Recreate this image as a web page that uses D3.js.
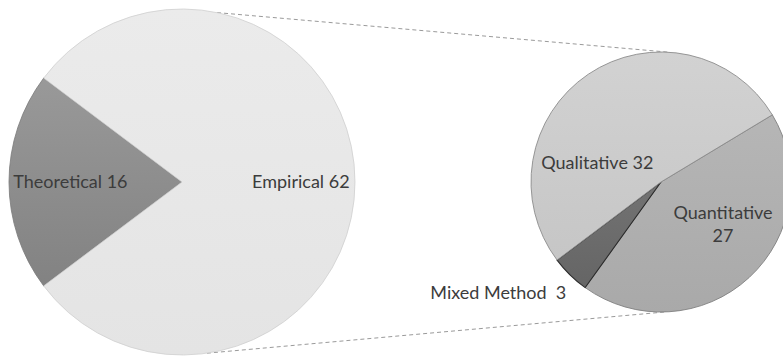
<!DOCTYPE html>
<html>
<head>
<meta charset="utf-8">
<script src="https://cdn.jsdelivr.net/npm/d3@7"></script>
<style>
  html, body { margin: 0; padding: 0; background: #ffffff; }
  svg { display: block; }
  text { font-family: Lato, "Open Sans", sans-serif; fill: #3c3c3c; }
</style>
</head>
<body>
<svg id="chart" width="783" height="360"></svg>
<script>
// Primary pie: study type
const mainCategories = ["Theoretical", "Empirical"];
const mainValues = [16, 62];

// Secondary pie: breakdown of the empirical studies by method
const subCategories = ["Quantitative", "Mixed Method", "Qualitative"];
const subValues = [27, 3, 32];

const svg = d3.select("#chart");

// Geometry of the two pies
const mainPie = { cx: 182, cy: 182, r: 173 };
const subPie = { cx: 661, cy: 182, r: 130 };

const deg = Math.PI / 180;

// Fills (top / bottom of a vertical gradient) and outlines per slice
const mainFill = {
  Theoretical: ["#999999", "#828282"],
  Empirical: ["#ebebeb", "#e4e4e4"]
};
const mainStroke = { Theoretical: "#7a7a7a", Empirical: "#cfcfcf" };
const subFill = {
  Qualitative: ["#d2d2d2", "#c6c6c6"],
  Quantitative: ["#b6b6b6", "#a9a9a9"],
  "Mixed Method": ["#737373", "#656565"]
};
const subStroke = { Qualitative: "#8c8c8c", Quantitative: "#808080", "Mixed Method": "#2a2a2a" };

const defs = svg.append("defs");
function addGradient(id, colors) {
  const g = defs.append("linearGradient")
    .attr("id", id).attr("x1", 0).attr("y1", 0).attr("x2", 0).attr("y2", 1);
  g.append("stop").attr("offset", "0%").attr("stop-color", colors[0]);
  g.append("stop").attr("offset", "100%").attr("stop-color", colors[1]);
}
const gid = name => "g-" + name.replace(/\s+/g, "-");
Object.entries(mainFill).forEach(([k, v]) => addGradient(gid(k), v));
Object.entries(subFill).forEach(([k, v]) => addGradient(gid(k), v));

// Connector lines between the pies (drawn first, beneath the pies)
const pt = (p, a) => [p.cx + p.r * Math.sin(a * deg), p.cy - p.r * Math.cos(a * deg)];
const connectors = [
  [pt(mainPie, 11.7), pt(subPie, 4)],
  [pt(mainPie, 171.7), pt(subPie, 178)]
];
svg.append("g").selectAll("line").data(connectors).join("line")
  .attr("x1", d => d[0][0]).attr("y1", d => d[0][1])
  .attr("x2", d => d[1][0]).attr("y2", d => d[1][1])
  .attr("stroke", "#9a9a9a").attr("stroke-width", 1)
  .attr("stroke-dasharray", "4,3");

// Primary pie: the theoretical wedge faces left
const mainData = mainCategories.map((c, i) => ({ name: c, value: mainValues[i] }));
const mainTotal = d3.sum(mainValues);
const theoSpan = 2 * Math.PI * mainValues[0] / mainTotal;
const mainLayout = d3.pie().sort(null).value(d => d.value)
  .startAngle(1.5 * Math.PI - theoSpan / 2)
  .endAngle(1.5 * Math.PI - theoSpan / 2 + 2 * Math.PI);
const mainArcs = mainLayout(mainData);
const mainArc = d3.arc().innerRadius(0).outerRadius(mainPie.r);

const gMain = svg.append("g").attr("transform", `translate(${mainPie.cx},${mainPie.cy})`);
gMain.selectAll("path").data(mainArcs).join("path")
  .attr("d", mainArc)
  .attr("fill", d => `url(#${gid(d.data.name)})`)
  .attr("stroke", d => mainStroke[d.data.name])
  .attr("stroke-width", 0.8);

// Secondary pie: the quantitative slice starts up-right
const subData = subCategories.map((c, i) => ({ name: c, value: subValues[i] }));
const subStart = 58.9 * deg;
const subLayout = d3.pie().sort(null).value(d => d.value)
  .startAngle(subStart).endAngle(subStart + 2 * Math.PI);
const subArcs = subLayout(subData);
const subArc = d3.arc().innerRadius(0).outerRadius(subPie.r);

const gSub = svg.append("g").attr("transform", `translate(${subPie.cx},${subPie.cy})`);
gSub.selectAll("path").data(subArcs).join("path")
  .attr("d", subArc)
  .attr("fill", d => `url(#${gid(d.data.name)})`)
  .attr("stroke", d => subStroke[d.data.name])
  .attr("stroke-width", d => d.data.name === "Mixed Method" ? 1.1 : 0.9);

// Label placement, relative to each pie centre in units of its radius
const labelPos = {
  Theoretical: { pie: mainPie, u: -0.645, v: 0.0, anchor: "middle" },
  Empirical: { pie: mainPie, u: 0.687, v: 0.0, anchor: "middle" },
  Qualitative: { pie: subPie, u: -0.49, v: -0.146, anchor: "middle" },
  Quantitative: { pie: subPie, u: 0.477, v: 0.323, anchor: "middle", wrap: true },
  "Mixed Method": { pie: subPie, u: -0.73, v: 0.85, anchor: "end", gap: true }
};

const labels = mainData.concat(subData);
const fontSize = 18;
labels.forEach(d => {
  const L = labelPos[d.name];
  const x = L.pie.cx + L.u * L.pie.r;
  const y = L.pie.cy + L.v * L.pie.r;
  const t = svg.append("text")
    .attr("x", x).attr("text-anchor", L.anchor)
    .attr("font-size", fontSize);
  if (L.wrap) {
    t.append("tspan").attr("x", x).attr("y", y - 5).text(d.name);
    t.append("tspan").attr("x", x).attr("y", y + 18).text(d.value);
  } else {
    t.attr("y", y + 6).text(L.gap ? d.name + "\u2002" + d.value : d.name + " " + d.value);
  }
});
</script>
</body>
</html>
